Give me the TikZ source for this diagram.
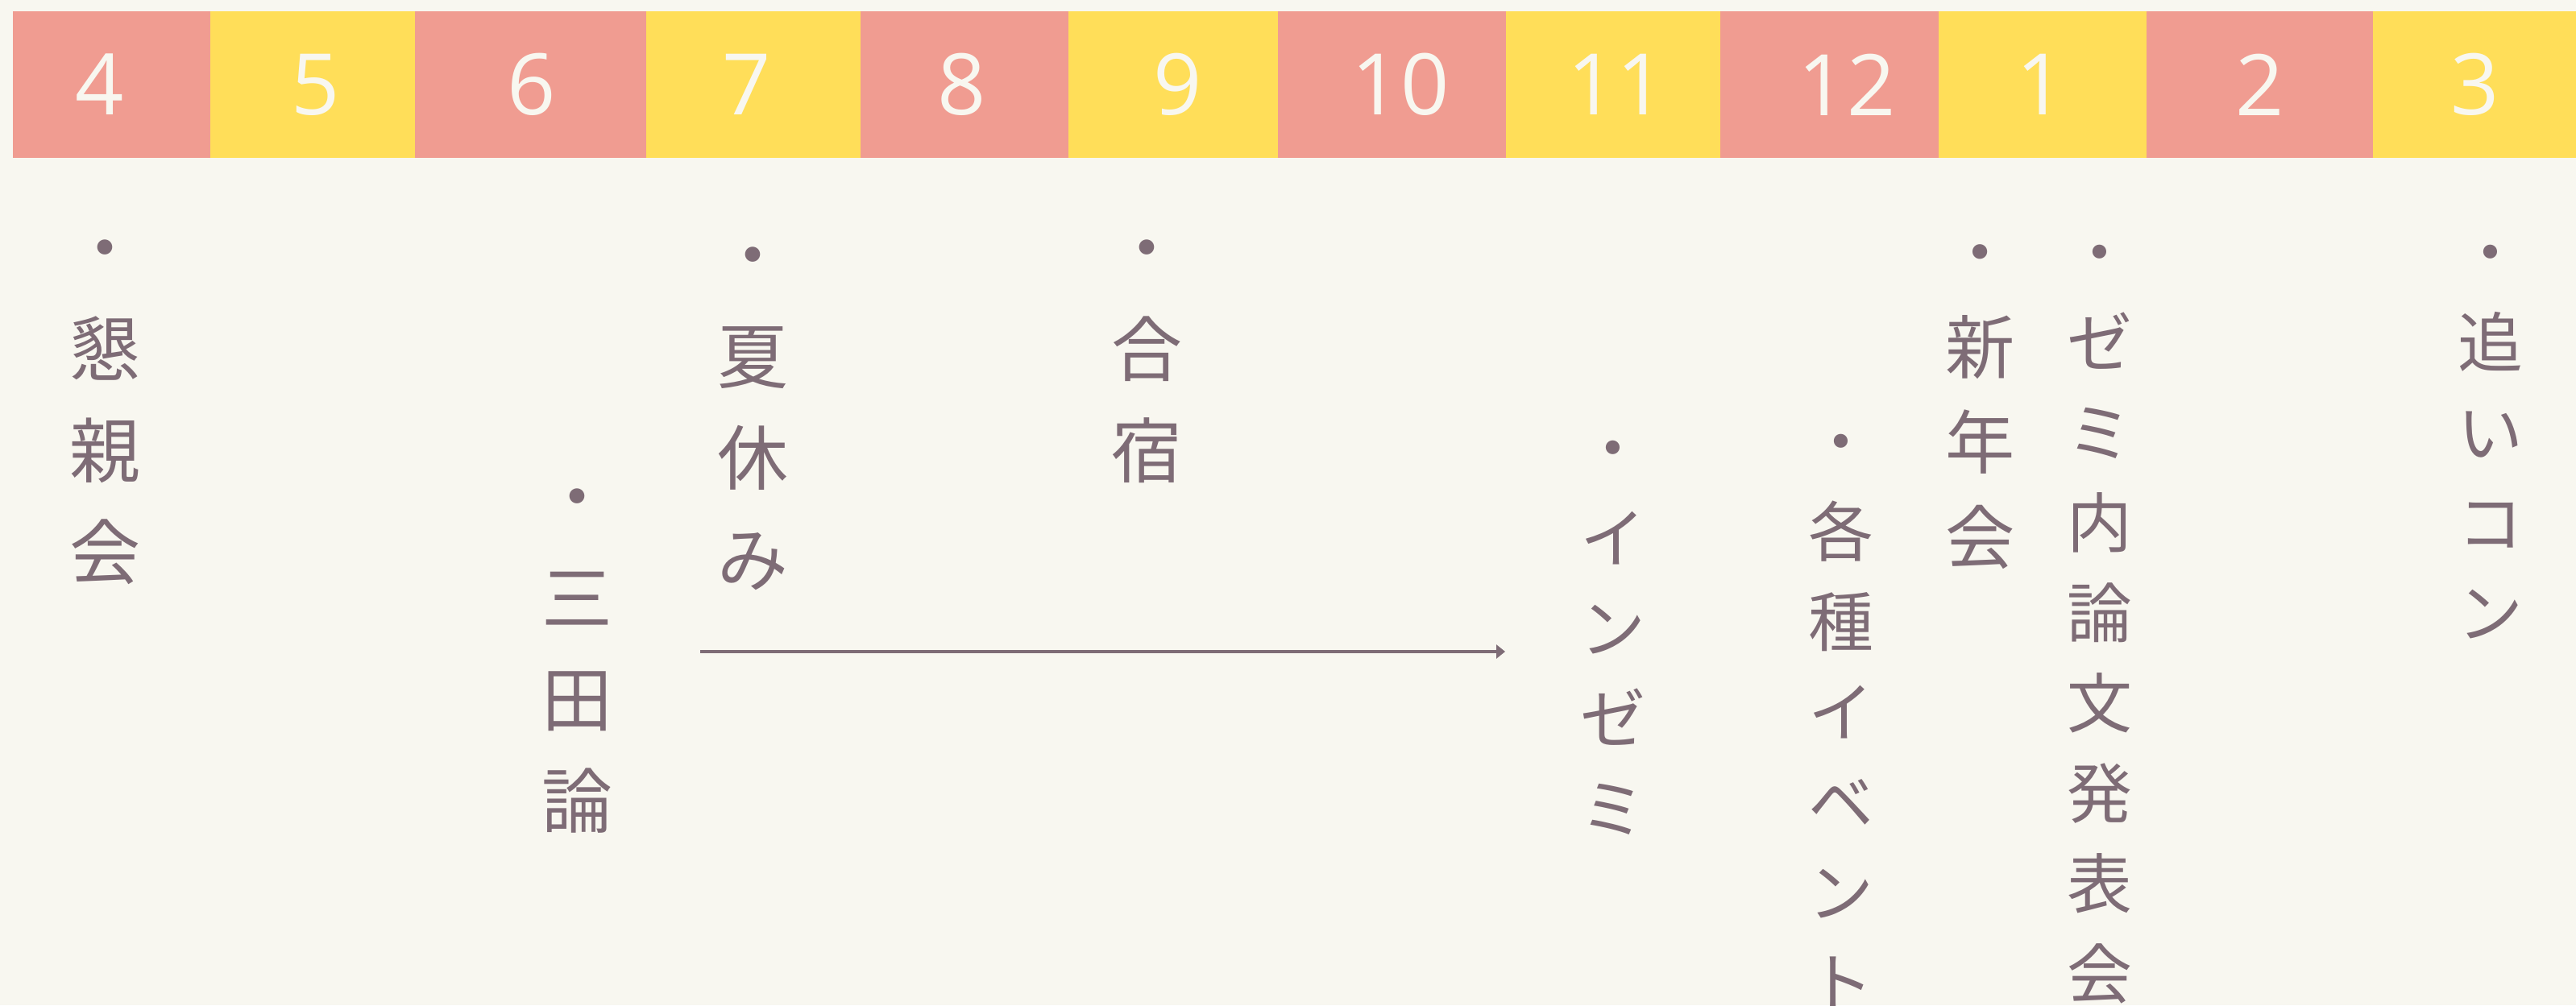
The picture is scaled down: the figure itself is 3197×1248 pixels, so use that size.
\documentclass[tikz,border=0pt]{standalone}
\usepackage{fontspec}
\usepackage{xcolor}
\usepackage{tikz}
\usetikzlibrary{arrows.meta}
\newfontfamily\jpfont{Noto Sans CJK JP}
\newfontfamily\numfont{Open Sans}
\definecolor{bgcream}{HTML}{F8F7F0}
\definecolor{monthpink}{HTML}{F09C91}
\definecolor{monthyellow}{HTML}{FFDE59}
\definecolor{inkmauve}{HTML}{7E6C76}
\tikzset{
    % month bar
    pinkcell/.style={fill=monthpink},
    yellowcell/.style={fill=monthyellow},
    month/.style={inner sep=0pt, text=bgcream, font={\numfont\fontsize{30}{36}\selectfont}},
    % vertical event labels
    tate/.style={anchor=north, align=center, inner sep=0pt, text=inkmauve,
        execute at begin node={\rule[-0.12em]{0pt}{1em}}},
    tateA/.style={tate, font={\jpfont\fontsize{25}{35.85}\selectfont}},
    tateN/.style={tate, font={\jpfont\fontsize{24.5}{33.57}\selectfont}},
    tateB/.style={tate, font={\jpfont\fontsize{23}{31.87}\selectfont}},
    % summer break arrow
    period/.style={-{Triangle[length=0.11cm, width=0.17cm]}, line width=0.043cm, draw=inkmauve}
}

\begin{document}
\begin{tikzpicture}[x=0.01cm, y=-0.01cm]
    % Background
    \useasboundingbox (0,0) rectangle (3197,1248);
    \fill[bgcream] (0,0) rectangle (3197,1248);

    % Month cells
    \fill[pinkcell] (16,14) rectangle (261,196);
    \fill[yellowcell] (261,14) rectangle (515,196);
    \fill[pinkcell] (515,14) rectangle (802,196);
    \fill[yellowcell] (802,14) rectangle (1068,196);
    \fill[pinkcell] (1068,14) rectangle (1326,196);
    \fill[yellowcell] (1326,14) rectangle (1586,196);
    \fill[pinkcell] (1586,14) rectangle (1869,196);
    \fill[yellowcell] (1869,14) rectangle (2135,196);
    \fill[pinkcell] (2135,14) rectangle (2406,196);
    \fill[yellowcell] (2406,14) rectangle (2664,196);
    \fill[pinkcell] (2664,14) rectangle (2945,196);
    \fill[yellowcell] (2945,14) rectangle (3197,196);

    % Month numbers
    \node[month] (apr) at (124,105) {4};
    \node[month] (may) at (392,105) {5};
    \node[month] (jun) at (660,105) {6};
    \node[month] (jul) at (927,105) {7};
    \node[month] (aug) at (1194,105) {8};
    \node[month] (sep) at (1462,105) {9};
    \node[month] (oct) at (1738,105) {10};
    \node[month] (nov) at (2006,105) {11};
    \node[month] (dec) at (2292,105) {12};
    \node[month] (jan) at (2533,105) {1};
    \node[month] (feb) at (2805,105) {2};
    \node[month] (mar) at (3072,105) {3};

    % Events, written top to bottom
    \node[tateA] (konshin) at (130,297) {・\\懇\\親\\会};
    \node[tateA] (mita) at (716,606) {・\\三\\田\\論};
    \node[tateA] (natsu) at (934,306) {・\\夏\\休\\み};
    \node[tateA] (gasshuku) at (1423,297) {・\\合\\宿};
    \node[tateB] (inzemi) at (2002,546) {・\\イ\\ン\\ゼ\\ミ};
    \node[tateB] (event) at (2285,538) {・\\各\\種\\イ\\ベ\\ン\\ト};
    \node[tateN] (shinnen) at (2458,303) {・\\新\\年\\会};
    \node[tateB] (happyo) at (2606,303) {・\\ゼ\\ミ\\内\\論\\文\\発\\表\\会};
    \node[tateB] (oicon) at (3091,303) {・\\追\\い\\コ\\ン};

    % Summer break span
    \coordinate (natsu-s) at (869,809);
    \coordinate (natsu-e) at (1868,809);
    \draw[period] (natsu-s) -- (natsu-e);
\end{tikzpicture}
\end{document}
